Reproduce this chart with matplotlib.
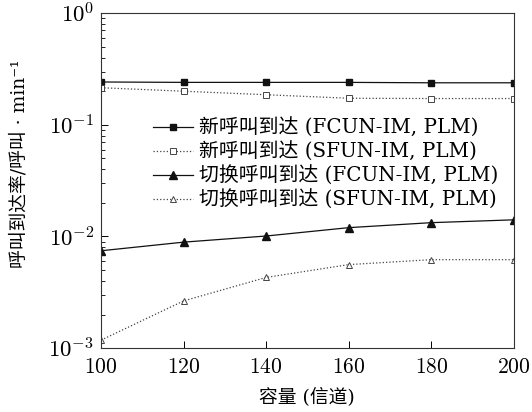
import matplotlib
matplotlib.use("Agg")
import matplotlib.pyplot as plt
from matplotlib.ticker import FixedLocator, LogLocator, NullFormatter

plt.rcParams['font.family'] = ['DejaVu Serif', 'Noto Sans CJK SC']
plt.rcParams['mathtext.fontset'] = 'cm'

capacity = [100, 120, 140, 160, 180, 200]
new_fcun = [0.242, 0.240, 0.240, 0.240, 0.238, 0.238]
new_sfun = [0.215, 0.200, 0.186, 0.173, 0.172, 0.172]
ho_fcun = [0.00745, 0.0089, 0.0101, 0.0120, 0.0133, 0.0141]
ho_sfun = [0.00118, 0.00265, 0.0043, 0.0056, 0.0062, 0.0062]
labels = ['新呼叫到达 (FCUN-IM, PLM)', '新呼叫到达 (SFUN-IM, PLM)',
          '切换呼叫到达 (FCUN-IM, PLM)', '切换呼叫到达 (SFUN-IM, PLM)']
xticks = [100, 120, 140, 160, 180, 200]
yticks = [1e-3, 1e-2, 1e-1, 1]
ytick_labels = [r'$10^{-3}$', r'$10^{-2}$', r'$10^{-1}$', r'$10^{0}$']

fig = plt.figure(figsize=(5.32, 4.12), dpi=100)
ax = fig.add_axes([0.19, 0.155, 0.776, 0.813])

c = '#111111'
g = '#444444'
ax.plot(capacity, new_fcun, '-', color=c, lw=0.9, marker='s', ms=5, mfc=c, label=labels[0])
ax.plot(capacity, new_sfun, ':', color=g, lw=0.9, marker='s', ms=5, mfc='white', mew=0.7, label=labels[1])
ax.plot(capacity, ho_fcun, '-', color=c, lw=0.9, marker='^', ms=5.5, mfc=c, label=labels[2])
ax.plot(capacity, ho_sfun, ':', color=g, lw=0.9, marker='^', ms=5, mfc='white', mew=0.7, label=labels[3])

ax.set_yscale('log')
ax.set_ylim(1e-3, 1)
ax.set_xlim(100, 200)
ax.xaxis.set_major_locator(FixedLocator(xticks))
ax.set_xticklabels([r'$%d$' % v for v in xticks])
ax.set_yticks(yticks)
ax.set_yticklabels(ytick_labels)
ax.yaxis.set_minor_locator(LogLocator(base=10, subs=range(2, 10), numticks=10))
ax.yaxis.set_minor_formatter(NullFormatter())
ax.tick_params(axis='both', which='both', direction='in', top=False, right=False)
ax.tick_params(axis='x', which='major', pad=6, labelsize=15.5)
ax.tick_params(axis='y', which='major', pad=5, labelsize=16.5)
ax.tick_params(axis='both', which='major', length=5, width=0.7)
ax.tick_params(axis='both', which='minor', length=3, width=0.6)
for s in ax.spines.values():
    s.set_linewidth(0.8)
    s.set_color('#333333')

fig.text(307 / 532, 1 - 398 / 412, '容量 (信道)', fontsize=13.5, ha='center', va='center')
fig.text(20 / 532, 1 - 164 / 412, '呼叫到达率/呼叫 · min⁻¹', fontsize=13.5,
         ha='center', va='center', rotation=90)

ax.legend(loc='upper left', bbox_to_anchor=(0.126, 0.687), frameon=False, fontsize=14.3,
          handlelength=2.0, handletextpad=0.3, labelspacing=0.2, borderaxespad=0, borderpad=0)

fig.savefig('out.png', dpi=100)
